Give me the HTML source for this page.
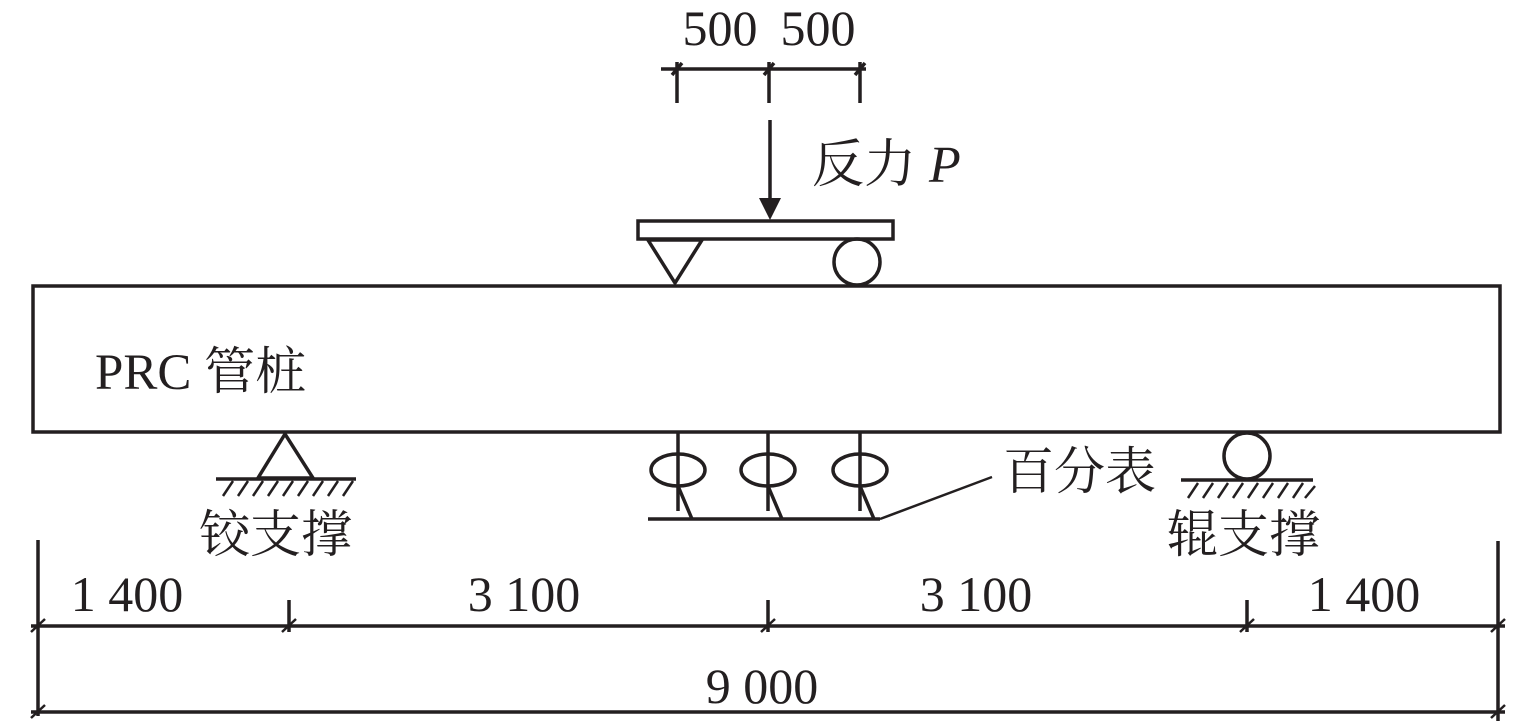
<!DOCTYPE html>
<html><head><meta charset="utf-8"><style>
html,body{margin:0;padding:0;background:#fff;}
svg{display:block}
text{font-family:"Liberation Serif","Noto Serif CJK SC",serif;fill:#231f20}
</style></head><body>
<svg width="1535" height="721" viewBox="0 0 1535 721" xmlns="http://www.w3.org/2000/svg">
<g stroke="#231f20" stroke-width="3.5" fill="none">
<rect x="33" y="286" width="1467" height="146"/>
<line x1="661" y1="69" x2="866" y2="69"/>
<line x1="677" y1="62" x2="677" y2="103"/>
<line x1="769" y1="62" x2="769" y2="103"/>
<line x1="860" y1="62" x2="860" y2="103"/>
<line x1="672" y1="75" x2="682" y2="63"/>
<line x1="764" y1="75" x2="774" y2="63"/>
<line x1="855" y1="75" x2="865" y2="63"/>
<line x1="770" y1="120" x2="770" y2="200"/>
<rect x="638" y="221" width="255" height="18"/>
<polygon points="648,240 702,240 675,283"/>
<circle cx="857" cy="262" r="23"/>
<polygon points="285,434 258,478 313,478"/>
<line x1="216" y1="479" x2="356" y2="479"/>
<circle cx="1247" cy="456" r="23"/>
<line x1="1181" y1="480" x2="1313" y2="480"/>
<line x1="678" y1="432" x2="678" y2="511"/>
<line x1="768" y1="432" x2="768" y2="511"/>
<line x1="860" y1="432" x2="860" y2="511"/>
<ellipse cx="678" cy="470" rx="27" ry="16"/>
<ellipse cx="768" cy="470" rx="27" ry="16"/>
<ellipse cx="860" cy="470" rx="27" ry="16"/>
<line x1="678" y1="486" x2="692" y2="519"/>
<line x1="768" y1="486" x2="782" y2="519"/>
<line x1="860" y1="486" x2="874" y2="519"/>
<line x1="648" y1="519" x2="880" y2="519"/>
<line x1="880" y1="519" x2="992" y2="477" stroke-width="2.5"/>
<line x1="38" y1="540" x2="38" y2="716"/>
<line x1="1498" y1="541" x2="1498" y2="721"/>
<line x1="31" y1="626" x2="1505" y2="626"/>
<line x1="31" y1="712" x2="1505" y2="712"/>
<line x1="289" y1="600" x2="289" y2="632"/>
<line x1="768" y1="600" x2="768" y2="632"/>
<line x1="1247" y1="600" x2="1247" y2="632"/>
</g>
<g stroke="#231f20" stroke-width="2.5">
<line x1="31" y1="632" x2="45" y2="619"/>
<line x1="282" y1="632" x2="296" y2="619"/>
<line x1="761" y1="632" x2="775" y2="619"/>
<line x1="1240" y1="632" x2="1254" y2="619"/>
<line x1="1491" y1="632" x2="1505" y2="619"/>
<line x1="31" y1="718" x2="45" y2="705"/>
<line x1="1491" y1="718" x2="1505" y2="705"/>
<line x1="223" y1="496" x2="233" y2="481"/><line x1="238" y1="496" x2="248" y2="481"/><line x1="253" y1="496" x2="263" y2="481"/><line x1="268" y1="496" x2="278" y2="481"/><line x1="283" y1="496" x2="293" y2="481"/><line x1="298" y1="496" x2="308" y2="481"/><line x1="313" y1="496" x2="323" y2="481"/><line x1="328" y1="496" x2="338" y2="481"/><line x1="343" y1="496" x2="353" y2="481"/>
<line x1="1188" y1="498" x2="1198" y2="483"/><line x1="1203" y1="498" x2="1213" y2="483"/><line x1="1218" y1="498" x2="1228" y2="483"/><line x1="1233" y1="498" x2="1243" y2="483"/><line x1="1248" y1="498" x2="1258" y2="483"/><line x1="1263" y1="498" x2="1273" y2="483"/><line x1="1278" y1="498" x2="1288" y2="483"/><line x1="1293" y1="498" x2="1303" y2="483"/><line x1="1305" y1="498" x2="1315" y2="486"/>
</g>
<polygon points="759,198 781,198 770,220" fill="#231f20"/>
<g font-size="50">
<text x="720" y="45" text-anchor="middle">500</text>
<text x="818" y="45" text-anchor="middle">500</text>
<text x="812" y="182" font-size="52">反力 <tspan font-style="italic">P</tspan></text>
<text x="95" y="389" font-size="51">PRC 管桩</text>
<text x="1003" y="489" font-size="51">百分表</text>
<text x="199" y="552" font-size="51">铰支撑</text>
<text x="1167" y="552" font-size="51">辊支撑</text>
<text x="127" y="611" text-anchor="middle">1 400</text>
<text x="524" y="611" text-anchor="middle">3 100</text>
<text x="976" y="611" text-anchor="middle">3 100</text>
<text x="1364" y="611" text-anchor="middle">1 400</text>
<text x="762" y="703" text-anchor="middle">9 000</text>
</g>
</svg>
</body></html>
